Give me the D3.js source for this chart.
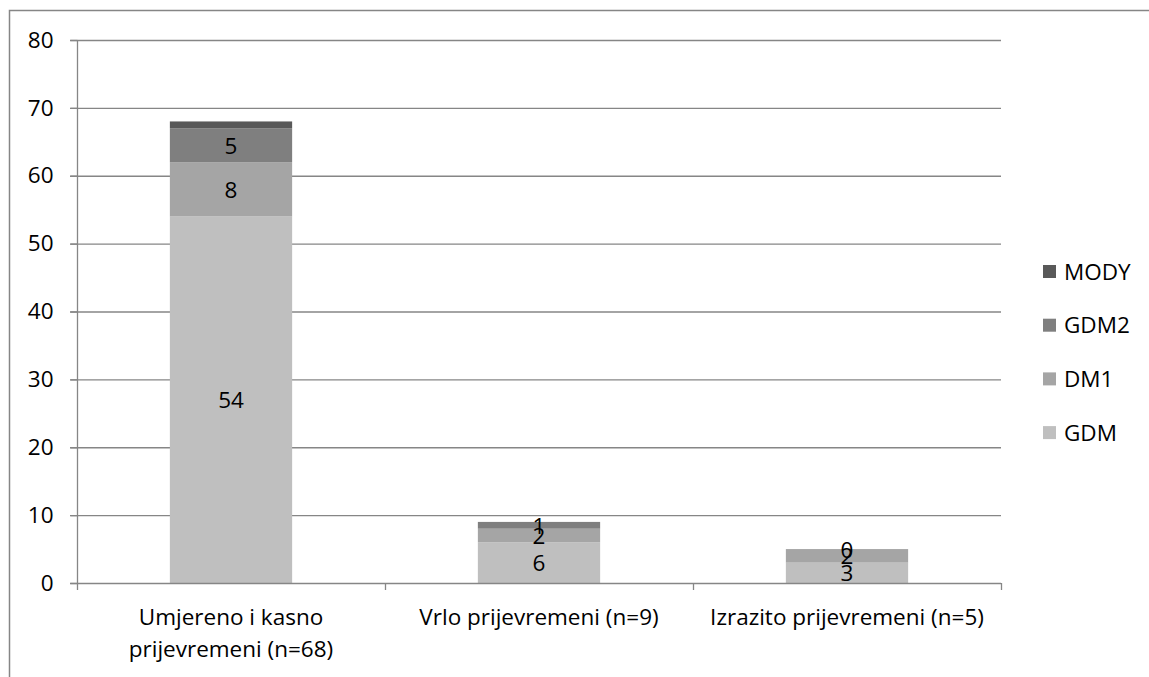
<!DOCTYPE html>
<html>
<head>
<meta charset="utf-8">
<script src="https://cdn.jsdelivr.net/npm/d3@7"></script>
<style>
  html, body { margin: 0; padding: 0; background: #fff; }
  svg { display: block; }
  text { font-family: "Open Sans", "Noto Sans", sans-serif; fill: #000; }
</style>
</head>
<body>
<svg id="chart" width="1149" height="677"></svg>
<script>
// ---- data ----
const categories = ["Umjereno i kasno prijevremeni (n=68)", "Vrlo prijevremeni (n=9)", "Izrazito prijevremeni (n=5)"];
const seriesNames = ["GDM", "DM1", "GDM2", "MODY"];
const GDM  = [54, 6, 3];
const DM1  = [8, 2, 2];
const GDM2 = [5, 1, 0];
const MODY = [1, 0, 0];
const labelledSeries = ["GDM", "DM1", "GDM2"];
const yTicks = [0, 10, 20, 30, 40, 50, 60, 70, 80];
const colors = { GDM: "#bfbfbf", DM1: "#a5a5a5", GDM2: "#7f7f7f", MODY: "#595959" };

const seriesValues = { GDM, DM1, GDM2, MODY };
const table = categories.map((c, i) => {
  const row = { category: c };
  seriesNames.forEach(s => row[s] = seriesValues[s][i]);
  return row;
});

// ---- layout ----
const svg = d3.select("#chart");
const W = 1149, H = 677;
const plotL = 77, plotR = 1001, plotT = 40, plotB = 583;
const axisColor = "#868686";
const fontSize = 22.5;
const fontFam = "'Open Sans', 'Noto Sans', sans-serif";

// outer border (clipped at right/bottom)
svg.append("path")
  .attr("d", `M9.5,${H} V10.5 H${W}`)
  .attr("fill", "none").attr("stroke", axisColor).attr("stroke-width", 1.5);

const y = d3.scaleLinear().domain([0, 80]).range([plotB, plotT]);
const x = d3.scaleBand().domain(categories).range([plotL, plotR]).padding(0);
const barW = x.bandwidth() * 0.397;

// gridlines
svg.append("g").selectAll("line").data(yTicks.filter(t => t > 0)).join("line")
  .attr("x1", plotL - 7).attr("x2", plotR)
  .attr("y1", d => y(d) + 0.5).attr("y2", d => y(d) + 0.5)
  .attr("stroke", axisColor).attr("stroke-width", 1.3);

// stacked bars
const stacked = d3.stack().keys(seriesNames)(table);
const cx = d => x(d.data.category) + x.bandwidth() / 2;

svg.append("g").selectAll("g").data(stacked).join("g")
  .attr("fill", d => colors[d.key])
  .selectAll("rect").data(d => d).join("rect")
  .attr("x", d => cx(d) - barW / 2)
  .attr("width", barW)
  .attr("y", d => y(d[1]))
  .attr("height", d => y(d[0]) - y(d[1]));

// data labels
svg.append("g").selectAll("g").data(stacked.filter(s => labelledSeries.includes(s.key))).join("g")
  .selectAll("text").data(d => d).join("text")
  .attr("x", d => cx(d))
  .attr("y", d => y((d[0] + d[1]) / 2))
  .attr("dy", "0.38em")
  .attr("text-anchor", "middle")
  .attr("font-size", fontSize)
  .text(d => d[1] - d[0]);

// y axis
const yAxis = d3.axisLeft(y).tickValues(yTicks).tickSize(7).tickPadding(17).tickFormat(d3.format("d"));
const gy = svg.append("g").attr("transform", `translate(${plotL + 0.5},0)`).call(yAxis);
gy.select(".domain").attr("stroke", axisColor).attr("stroke-width", 1.3).attr("d", `M0,${y(80)}V${plotB + 7}`);
gy.selectAll(".tick line").attr("stroke", axisColor).attr("stroke-width", 1.3);
gy.selectAll(".tick text").attr("font-size", fontSize).attr("font-family", fontFam).attr("fill", "#000");

// x axis line and boundary ticks
svg.append("line").attr("x1", plotL - 7).attr("x2", plotR)
  .attr("y1", plotB + 0.5).attr("y2", plotB + 0.5)
  .attr("stroke", axisColor).attr("stroke-width", 1.5);
const bounds = categories.map(c => x(c)).concat([plotR]);
svg.append("g").selectAll("line").data(bounds.slice(1)).join("line")
  .attr("x1", d => d + 0.5).attr("x2", d => d + 0.5)
  .attr("y1", plotB).attr("y2", plotB + 7)
  .attr("stroke", axisColor).attr("stroke-width", 1.3);

// category labels (wrapped)
const maxW = 295;
const gx = svg.append("g");
categories.forEach(c => {
  const mx = x(c) + x.bandwidth() / 2;
  const t = gx.append("text")
    .attr("x", mx)
    .attr("y", 625)
    .attr("text-anchor", "middle")
    .attr("font-size", fontSize);
  const words = c.split(" ");
  let line = [];
  let tspan = t.append("tspan").attr("x", mx).attr("dy", 0);
  words.forEach(w => {
    line.push(w);
    tspan.text(line.join(" "));
    if (tspan.node().getComputedTextLength() > maxW && line.length > 1) {
      line.pop();
      tspan.text(line.join(" "));
      line = [w];
      tspan = t.append("tspan").attr("x", mx).attr("dy", 32).text(w);
    }
  });
});

// legend
const legendItems = seriesNames.slice().reverse();
const lg = svg.append("g").selectAll("g").data(legendItems).join("g")
  .attr("transform", (d, i) => `translate(1043, ${265 + i * 53.7})`);
lg.append("rect").attr("width", 13).attr("height", 13).attr("fill", d => colors[d]);
lg.append("text").attr("x", 21).attr("y", 6.5).attr("dy", "0.36em")
  .attr("font-size", fontSize).text(d => d);
</script>
</body>
</html>
